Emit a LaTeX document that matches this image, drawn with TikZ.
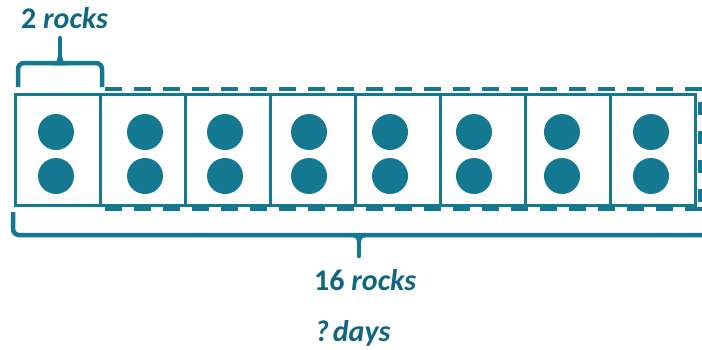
\documentclass[tikz,border=0pt]{standalone}
\usepackage{fontspec}
\setmainfont{Carlito}
\usetikzlibrary{calc}
\definecolor{teal1}{RGB}{21,120,145}
\definecolor{tealtxt}{RGB}{16,102,128}
\begin{document}
\begin{tikzpicture}[x=1pt,y=-1pt,
  cell/.style={draw=teal1, line width=3pt, fill=white, minimum width=85pt, minimum height=111pt, inner sep=0pt, anchor=north west},
  dot/.style={circle, fill=teal1, minimum size=36pt, inner sep=0pt},
  dashline/.style={draw=teal1, line width=4pt, dash pattern=on 17pt off 12pt},
  brace/.style={draw=teal1, line width=4.5pt, rounded corners=6pt},
  lbl/.style={text=tealtxt, font=\bfseries\fontsize{30}{36}\selectfont, inner sep=0pt, anchor=base west}]
\useasboundingbox (0,0) rectangle (702,349);
% dashed outline of the unknown part
\coordinate (dTL) at (105,89);
\coordinate (dTR) at (702,89);
\coordinate (dBL) at (105,209);
\coordinate (dBR) at (702,209);
\coordinate (dR1) at (700,102);
\coordinate (dR2) at (700,209);
\draw[dashline] (dTL) -- (dTR);
\draw[dashline] (dBL) -- (dBR);
\draw[dashline, dash pattern=on 13pt off 16pt] (dR1) -- (dR2);
% cells with dots
\foreach \i/\dx in {0/56,1/145,2/225,3/309,4/390,5/474,6/562,7/651} {
  \node[cell] (b\i) at ({14+85*\i},93) {};
  \node[dot] (u\i) at (\dx,132) {};
  \node[dot] (l\i) at (\dx,176) {};
}
% top brace
\coordinate (tL) at (18,87);
\coordinate (tR) at (102,87);
\coordinate (tM) at (60,63);
\coordinate (tT) at (60,38);
\draw[brace] (tL) |- ($(tM)+(-5,0)$) to[out=0,in=90] ($(tM)+(0,-4)$);
\draw[brace] (tR) |- ($(tM)+(5,0)$) to[out=180,in=90] ($(tM)+(0,-4)$);
\draw[draw=teal1, line width=4.5pt, line cap=round] (tM) -- (tT);
% bottom brace
\coordinate (bL) at (13,212);
\coordinate (bR) at (704,235);
\coordinate (bM) at (359,235);
\coordinate (bT) at (359,256);
\draw[brace] (bL) |- (bR);
\draw[draw=teal1, line width=4.5pt] ($(bM)+(-6,0)$) to[out=0,in=90] ($(bM)+(0,6)$) to[out=90,in=180] ($(bM)+(6,0)$);
\draw[draw=teal1, line width=4.5pt, line cap=round] (bM) -- (bT);
% labels
\node[lbl] (t2) at (21,28) {2 \textit{rocks}};
\node[lbl] (t16) at (314,290) {16 \textit{rocks}};
\node[lbl] (tq) at (315,341) {\textit{?\kern-3pt\ days}};
\end{tikzpicture}
\end{document}
